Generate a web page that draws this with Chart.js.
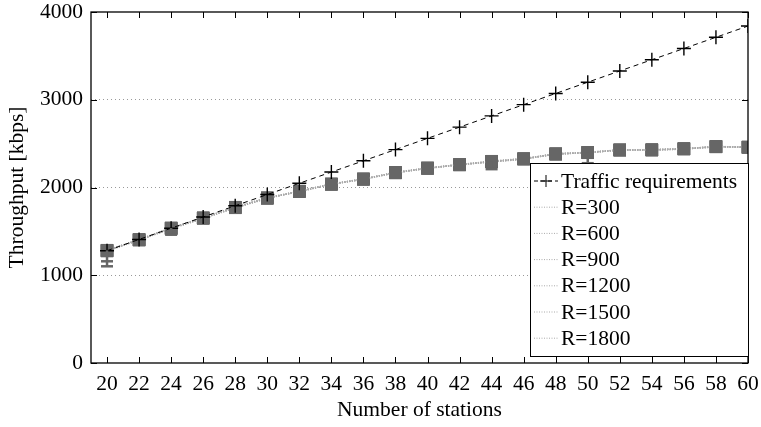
<!DOCTYPE html>
<html>
<head>
<meta charset="utf-8">
<script src="https://cdn.jsdelivr.net/npm/chart.js@4"></script>
<style>
html,body{margin:0;padding:0;background:#fff;}
#wrap{width:761px;height:427px;}
</style>
</head>
<body>
<div id="wrap"><canvas id="c" width="761" height="427"></canvas></div>
<script>
const stations = [20,22,24,26,28,30,32,34,36,38,40,42,44,46,48,50,52,54,56,58,60];
const traffic = [1280,1408,1536,1664,1792,1920,2048,2176,2304,2432,2560,2688,2816,2944,3072,3200,3328,3456,3584,3712,3840];
const r300  = [1284,1405,1538,1652,1773,1880,1955,2039,2095,2170,2220,2261,2295,2326,2383,2398,2428,2428,2440,2466,2459];
const r600  = [1280,1400,1530,1648,1770,1876,1960,2035,2100,2165,2225,2258,2300,2330,2380,2402,2425,2432,2444,2462,2462];
const r900  = [1276,1408,1534,1655,1776,1884,1952,2042,2092,2174,2216,2264,2292,2322,2386,2395,2430,2426,2438,2468,2456];
const r1200 = [1282,1402,1540,1650,1768,1878,1958,2036,2098,2168,2222,2256,2298,2328,2378,2400,2426,2430,2442,2464,2460];
const r1500 = [1278,1406,1536,1654,1775,1882,1954,2040,2094,2172,2218,2262,2294,2324,2384,2396,2429,2427,2439,2465,2458];
const r1800 = [1286,1404,1532,1651,1772,1879,1957,2038,2096,2169,2221,2260,2296,2327,2382,2399,2427,2429,2441,2467,2461];
const r300Low = [1102,null,1462,null,null,null,null,null,null,null,null,null,2209,null,null,2277,null,null,null,null,null];
const yTicks = [0,1000,2000,3000,4000];
const xLabels = stations;

const FONT = "'Liberation Serif', 'DejaVu Serif', serif";
const FS = 21.5;

function pts(arr){ return stations.map((x,i)=>({x:x,y:arr[i]})); }

function rSeries(label, arr){
  return {
    label: label, data: pts(arr), showLine: true,
    borderColor: '#aaaaaa', borderWidth: 1.6, borderDash: [1,1.5],
    pointStyle: 'rect', pointRadius: 8.8, pointBackgroundColor: '#666', pointBorderColor: '#666',
    pointBorderWidth: 0, order: 2, legendKind: 'r'
  };
}

const datasets = [
  { label: 'Traffic requirements', data: pts(traffic), showLine: true,
    borderColor: '#000', borderWidth: 1, borderDash: [5,4],
    pointStyle: 'cross', pointRadius: 7, pointBorderColor: '#000', pointBorderWidth: 1.4,
    order: 1, legendKind: 't' },
  rSeries('R=300', r300),
  rSeries('R=600', r600),
  rSeries('R=900', r900),
  rSeries('R=1200', r1200),
  rSeries('R=1500', r1500),
  rSeries('R=1800', r1800)
];

const framePlugin = {
  id: 'frame',
  afterDatasetsDraw(chart){
    const {ctx, chartArea:a, scales:{x,y}} = chart;
    ctx.save();
    // error bars
    ctx.strokeStyle = '#666'; ctx.lineWidth = 2.5;
    r300Low.forEach((lo,i)=>{
      if(lo===null) return;
      const px = x.getPixelForValue(stations[i]);
      const p0 = y.getPixelForValue(r300[i]);
      const p1 = y.getPixelForValue(lo);
      ctx.beginPath(); ctx.moveTo(px,p0); ctx.lineTo(px,p1); ctx.stroke();
      ctx.beginPath(); ctx.moveTo(px-6,p1); ctx.lineTo(px+6,p1); ctx.stroke();
      if(i===0){
        const pm = y.getPixelForValue(1159);
        ctx.beginPath(); ctx.moveTo(px-6,pm); ctx.lineTo(px+6,pm); ctx.stroke();
      }
    });
    // frame
    ctx.strokeStyle = '#000'; ctx.lineWidth = 1.3;
    ctx.strokeRect(a.left, a.top, a.right-a.left, a.bottom-a.top);
    ctx.lineWidth = 1;
    stations.forEach(v=>{
      const px = Math.round(x.getPixelForValue(v))+0.5;
      ctx.beginPath(); ctx.moveTo(px,a.bottom); ctx.lineTo(px,a.bottom-6); ctx.stroke();
      ctx.beginPath(); ctx.moveTo(px,a.top); ctx.lineTo(px,a.top+6); ctx.stroke();
    });
    yTicks.forEach(v=>{
      const py = Math.round(y.getPixelForValue(v))+0.5;
      ctx.beginPath(); ctx.moveTo(a.left,py); ctx.lineTo(a.left+6,py); ctx.stroke();
      ctx.beginPath(); ctx.moveTo(a.right,py); ctx.lineTo(a.right-6,py); ctx.stroke();
    });
    // legend
    const lx = 530.5, ly = 163.5, lw = 218, lh = 193;
    ctx.fillStyle = '#fff';
    ctx.fillRect(lx, ly, lw, lh);
    ctx.strokeStyle = '#000'; ctx.lineWidth = 1;
    ctx.strokeRect(lx, ly, lw, lh);
    ctx.font = FS + 'px ' + FONT;
    ctx.textBaseline = 'middle';
    chart.data.datasets.forEach((ds,i)=>{
      const cy = 181 + i*26.2;
      if(ds.legendKind==='t'){
        ctx.strokeStyle='#000'; ctx.lineWidth=1; ctx.setLineDash([4,3]);
        ctx.beginPath(); ctx.moveTo(534,cy); ctx.lineTo(558,cy); ctx.stroke();
        ctx.setLineDash([]);
        ctx.beginPath(); ctx.moveTo(546,cy-6); ctx.lineTo(546,cy+6); ctx.moveTo(540,cy); ctx.lineTo(552,cy); ctx.stroke();
      } else {
        ctx.strokeStyle='#aaa'; ctx.lineWidth=1; ctx.setLineDash([1,1.5]);
        ctx.beginPath(); ctx.moveTo(534,cy); ctx.lineTo(558,cy); ctx.stroke();
        ctx.setLineDash([]);
      }
      ctx.fillStyle='#000';
      ctx.fillText(ds.label, 561, cy+1);
    });
    ctx.restore();
  }
};

new Chart(document.getElementById('c'), {
  type: 'scatter',
  data: { datasets: datasets },
  options: {
    responsive: false, animation: false, devicePixelRatio: 1,
    layout: { padding: { left: 0, right: 13, top: 12, bottom: 0 } },
    plugins: { legend: { display: false }, tooltip: { enabled: false } },
    scales: {
      x: {
        type: 'linear', min: 19, max: 60,
        afterBuildTicks(s){ s.ticks = xLabels.map(v=>({value:v})); },
        afterFit(s){ s.height = 64; s.paddingLeft = 0; s.paddingRight = 0; },
        grid: { display: false, drawTicks: false },
        border: { display: false },
        ticks: { color: '#000', font: { family: FONT, size: FS }, padding: 8, maxRotation: 0, autoSkip: false },
        title: { display: true, text: 'Number of stations', color: '#000', font: { family: FONT, size: FS }, padding: { top: 0 } }
      },
      y: {
        min: 0, max: 4000,
        afterBuildTicks(s){ s.ticks = yTicks.map(v=>({value:v})); },
        afterFit(s){ s.width = 91; s.paddingTop = 0; s.paddingBottom = 0; },
        grid: {
          drawTicks: false,
          color: ctx => (ctx.tick && (ctx.tick.value===0 || ctx.tick.value===4000)) ? 'rgba(0,0,0,0)' : '#999',
          lineWidth: 1
        },
        border: { display: false, dash: [1,3] },
        ticks: { color: '#000', font: { family: FONT, size: FS }, padding: 8, callback: v => String(v) },
        title: { display: true, text: 'Throughput [kbps]', color: '#000', font: { family: FONT, size: FS }, padding: { bottom: 2 } }
      }
    }
  },
  plugins: [framePlugin]
});
</script>
</body>
</html>
